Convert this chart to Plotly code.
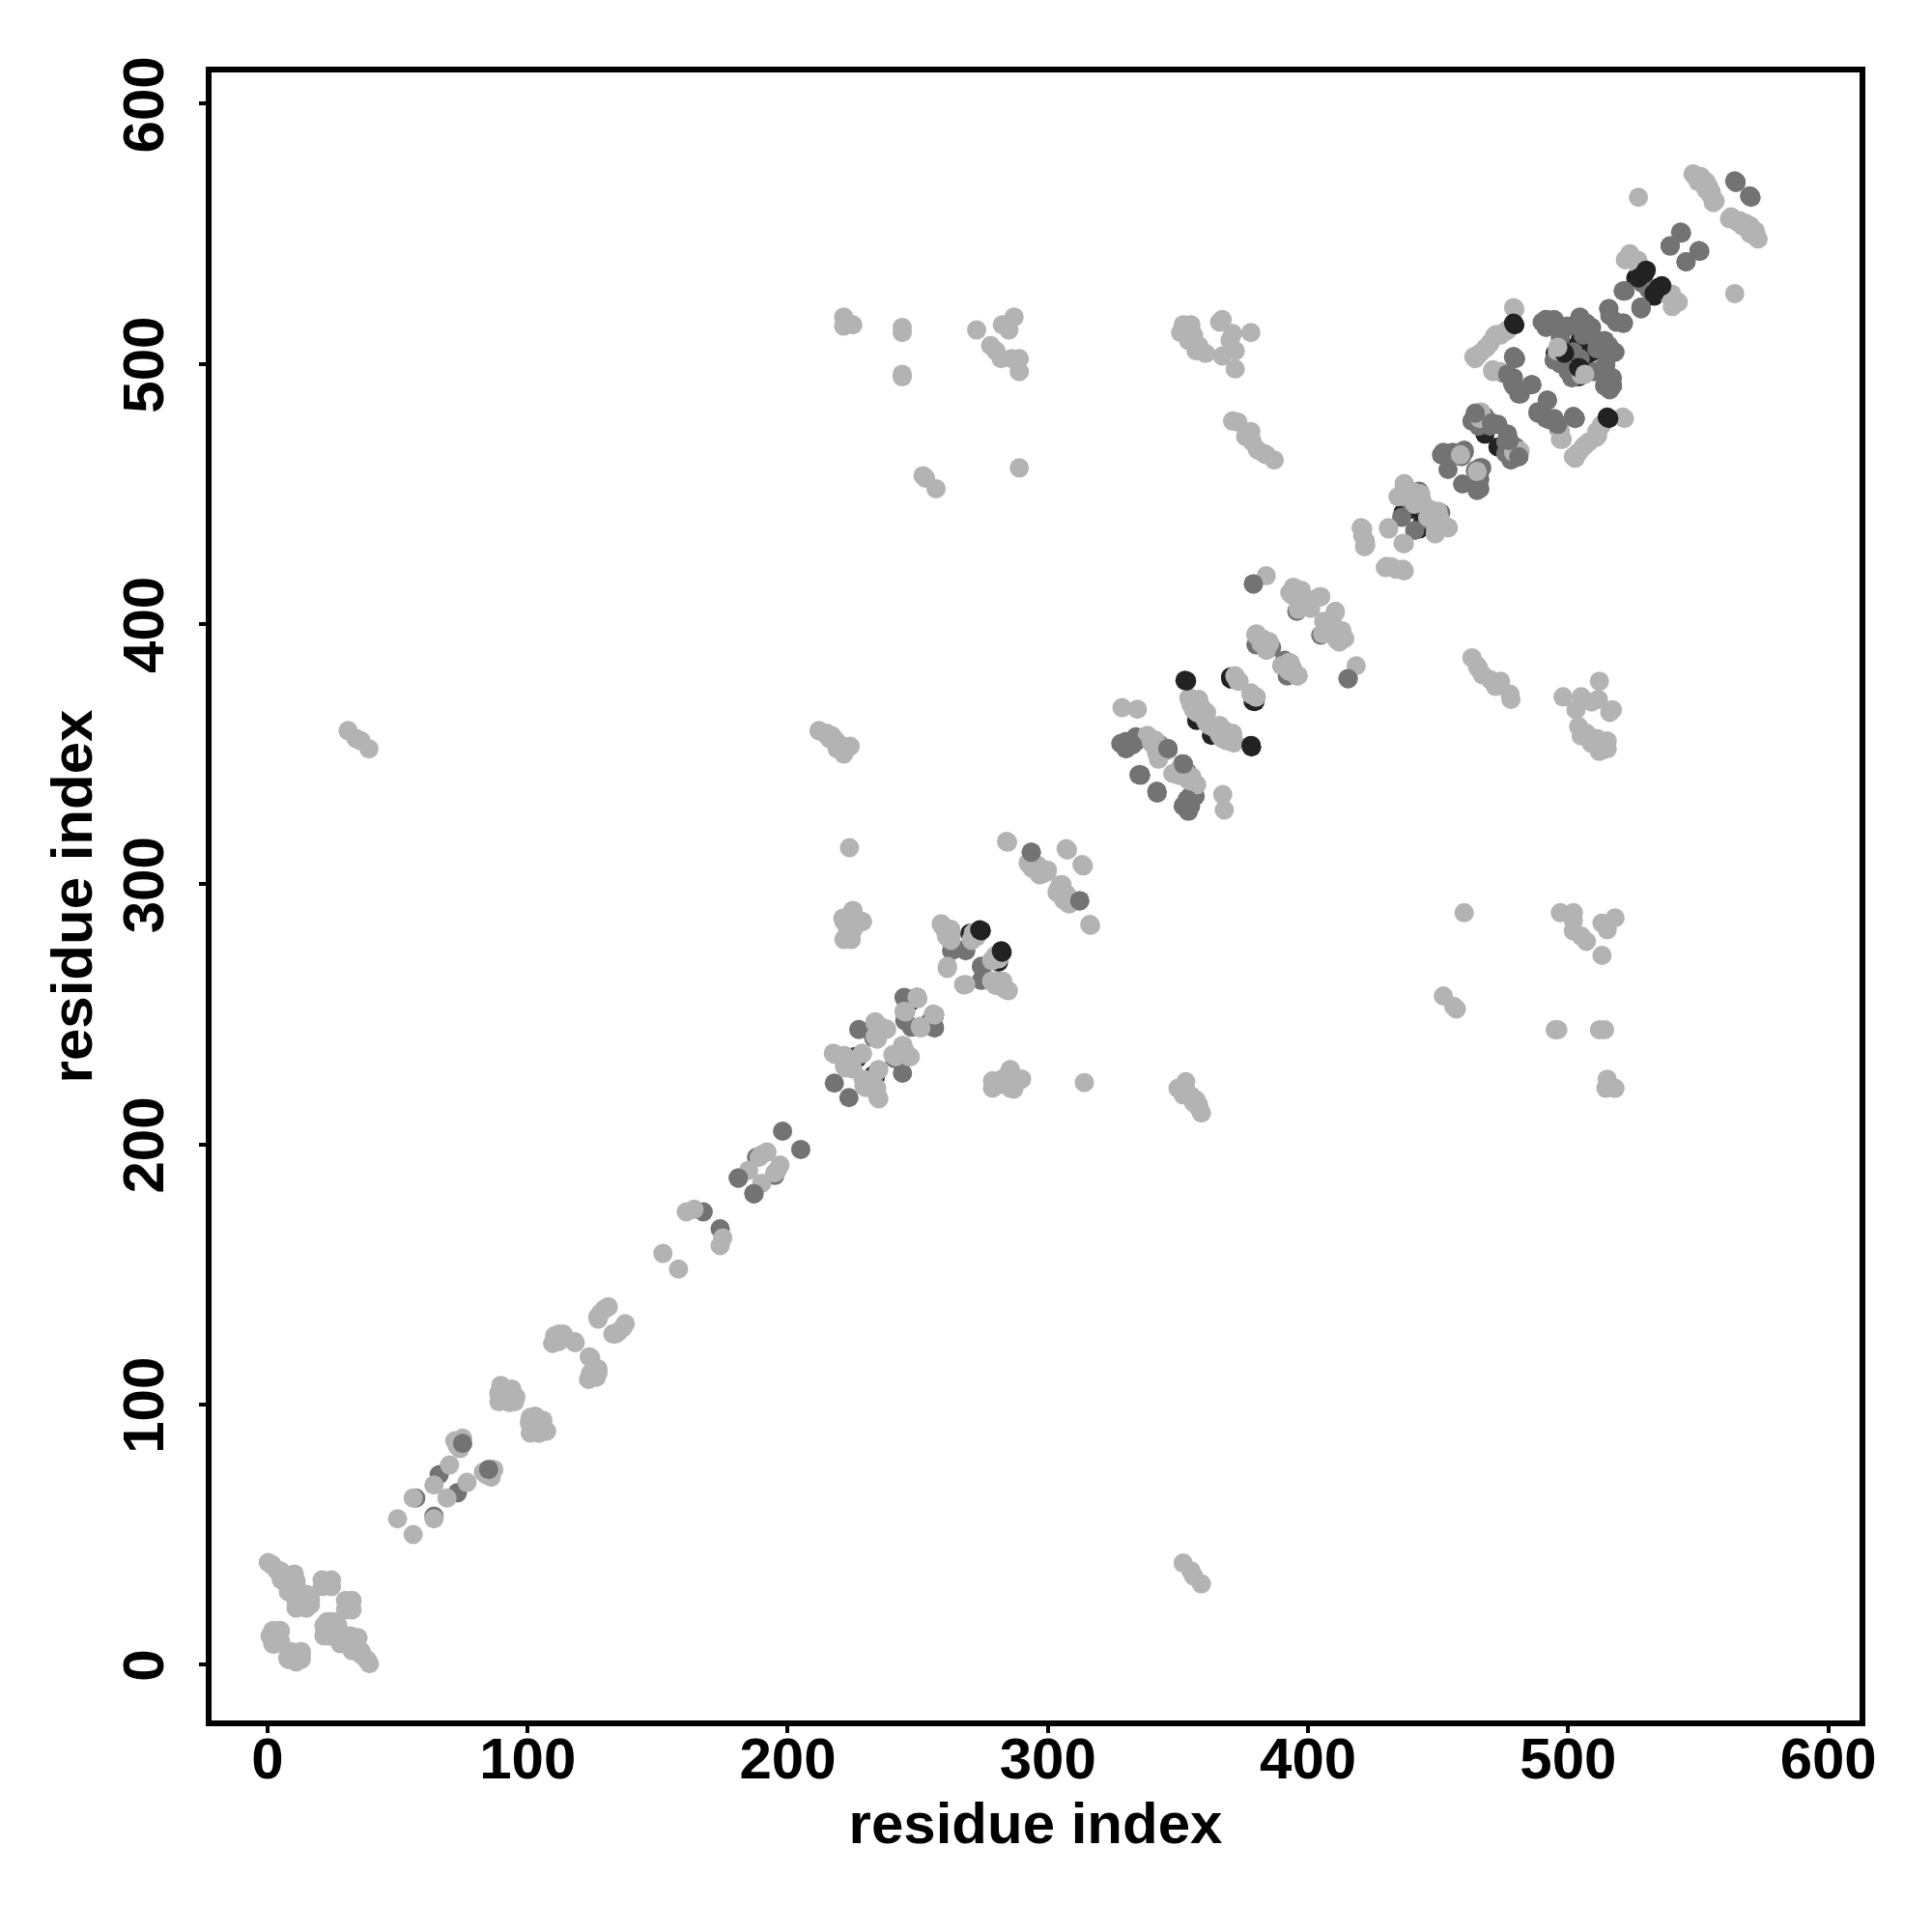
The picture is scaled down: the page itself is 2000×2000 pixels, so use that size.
import plotly.graph_objects as go

tick_values = [0, 100, 200, 300, 400, 500, 600]
axis_label = "residue index"

# contacts (i, j), i < j; every contact is drawn at (i, j) and (j, i)
dark_under = [(226.6,233),(225.6,233.6),(232.2,243.5),(234,241),(247.8,255.2),(249.7,256.4),
              (270,281),(272,280),(357.2,362.9),
              (370.2,379.6),(370.3,378.9),(436.5,442.7),(442.7,446),(439,444),
              (468,473),(502.7,515),(504.5,509),(506,512),
              (526,533),(529.3,534.8),(528,534),(495,504),(500,506)]

mid = [(57,64),(66,73),(74,86),(167.5,174),(181,187),(188,195),(198,205),(217.9,223.5),(225.6,233),
       (227.3,244.1),(233,241),(245.7,256.1),(245,247.5),(244.7,256.4),(263,274.4),(268.2,274.8),(268.4,274.4),
       (293.6,312.2),(329.4,354.2),(333.7,356.1),(332.5,353.6),(330,352),(335.6,341.9),(343,353.6),(346.1,352.1),
       (330,354.8),(333.8,354.8),(333.8,356.6),(328,354),(346.2,351.7),(379,415.4),(384,390),(380,392),(386,391),(395.7,404.9),
       (436,441),(440,446),(442.7,451),(437,453.8),(441,449),
       (452,466),(455.6,466),(460,466),(459,464.3),(453.8,459.4),(451.3,465),(456.3,465.5),(460,466.8),
       (464.3,481),(468,479.8),(470.5,477.3),(466,478),(463,478),(465,480),(470,476),(473,476.7),(465.6,476),
       (475,496.5),(478,494.6),(479,491.5),(481.6,488.4),(486,492),(481,488.4),(478.5,492.8),(474.8,496.5),(479,502.7),
       (479.8,502),(494.6,501.4),(497,500),(491.5,517),(495,516),(493.4,515),(491.5,514),(497.7,512.6),(502,504.6),
       (504.5,517.5),(507.6,514.4),(505.7,513),(507,515.6),(504.5,518),(509,514),
       (507,515),(504,514.4),(505.8,511),(493.4,516.3),(494.6,516.9),(491.5,516.3),(497,512),(499.6,514.4),(497,510),
       (490,516),(493,515),(515.6,521.2),(521.8,528),(521.2,528),(528.5,531),(529,534),
       (539.2,545.3),(543.5,550.3),(543.2,550.6),(564.5,569.8)]

light = [(0.3,39.2),(1.5,38.5),(3.6,36.3),(5.3,32.6),(7,34),(10.3,34.8),(11,30.5),(8,28),(9,31),(13.6,26.8),(12.7,22.4),(16.5,23),(11,21.7),
         (12,25),(14,23),(15,21.7),(13,24),(16.5,25),(11,24),(12,22),(14,24),(15,24),(10,27),(15,27),(2,38),(4,36),(6,33),(9,34),(11,32),(5,36),(8,30),
         (21,30),(24.6,30),(21,32.5),(24.6,32.5),(22.7,31.5),(23,31),
         (1,11),(2,8),(4,13),(5,13),(1.2,10.8),(3.4,12.7),(2.6,7.8),(2,13),(5,9),(3.5,11),
         (50,56),(56,64),(64,69),(70,76.7),(72,86),(75,85),(75,87),(73,84),(74,83),
         (89.7,107.3),(93.9,105.9),(95.5,102.9),(88.9,104.4),(93,100.7),(89.7,102.2),(91.4,105.1),(92,103),(90,105),(94,103),(89,101),(90.5,101.3),(93,104),(95,101),(91,101.5),
         (110.4,126.4),(112,124.2),(117.9,124.2),(113.7,127),(109.6,123.4),(111,125),(111,125.3),(118.3,123.7),(112,127),
         (127,133.7),(129.5,136.6),(128,135),(131,137.5),(127.1,132.8),
         (152,158),(161,174),(164,175),(185,190),(190,196),(192,197),(189,195),
         (218,234.6),(221.6,234.2),(222.3,229.3),(228.7,234.8),(228.6,235),(221.8,230),(217.5,235),(224,232),(225,229),
         (233.6,246.6),(237.9,244.1),(234.4,240.4),(238,244.3),(233.6,247.1),(233.6,241.5),(235,244),(236,245),
         (250,255.9),(245.4,250.9),(249.7,256.4),(244.7,251.1),
         (259.2,284.3),(262.7,281.2),(262.7,278.7),(261.3,267.6),(261.4,268.4),(262,279),(260,283),(261,280),
         (271.3,281.2),(270.6,278.7),(272.6,279.8),(270.7,278.4),(262.7,278.4),(262.7,282.6),(259,284.8),
         (223.7,314),(284.5,316.1),(307.5,313.1),(307,313.6),(284.1,316.4),
         (292.6,307.8),(296.1,307.2),(296.8,303.5),(299.7,304.7),(297.3,304.6),(292.4,308.2),(299.8,305.4),(294,306),(298,304),
         (225.1,289.9),(221.6,285.6),(228.7,285.6),(221.6,278.7),(224.4,278.7),(225.1,282.5),(222.5,280),(228.6,285.5),(224.9,289.7),(221.2,286.9),(223,283),(226,284),
         (212,359),(215,358),(217,357),(218.6,355),(221,353),(224,353),(221.5,350),(219,352),(214,358),(216,356),
         (221.5,518),(221.5,514.5),(225,515),(244,514),(244,512),(244,496),(244,495),(253,456),(257,452),(289,460),
         (272.6,513),(282.5,515),(287,518),(285,513),(278,507),(280,505),(282,502),(286,502),(289,502),(289,497),
         (352,515),(355,515),(351,512),(354,509),(357,505),(360.6,504),(356,511),(353,513),(358,507),
         (367,517),(371,511.6),(378,512),(367,503),(372,505),(372,498),(370,509),(366,516),
         (371,478),(373,477.6),(378,474),(378.6,470),(380.5,467),(384,465),(387,463),(376,472),(383,465.5),
         (31,359),(34,356),(36,355),(39,352),
         (328.5,367.8),(334.4,367.2),(338.7,356.1),(341.8,350.5),(355.4,341.2),(357.2,338.2),(348,342.5),(351,345),(340,354),(353,343),
         (354.8,371.5),(359.1,367.8),(357.9,369.7),(357.2,366),(355,369),(358,371),(356,367),
         (366.5,359.2),(369.6,356.7),(371.5,354.2),(360,364),(362,361),(366,361),(368,358),(370,355.5),(367,358),(365,360),
         (372,379.8),(373.5,378),(371.9,380.1),(373,378),
         (380,395.7),(385,393.2),(380,396),(383,394),(382,392.5),(384.5,392.5),(380.2,396.2),(384,390),(385.2,392.5),(385,393),
         (395,410.5),(396.2,405.6),(399.9,409.3),(404.9,410.5),(397.4,413),(393,412),(398,407),(401,406),(394,411),(404.3,410.4),(398.1,407.3),(394.4,414.1),(396,410),(395,412),(383.9,418.5),
         (421,436.5),(422.2,430.3),(430.9,437),(431,436.5),(421.7,429.7),(420.4,437),(422,432),(421,434),
         (437.7,452),(443.3,450),(434.6,448.9),(438,449),(440,451),(442.7,448),(437,453.8),(443,447),(436,449),(438,450),(441,446),(444,447),
         (458.6,465),(466,479),(465.6,481),(466.5,481.5),
         (464.3,502),(468,505.8),(471.7,510.7),(476.7,513),(479.5,521),(466,504),(470,508),(474,511),(465,503),(463.7,502.7),(468.7,506.4),(472.4,511.3),(476,512.5),(471,497),(474,497),
         (479,521.6),(471,497.7),(523.7,542.3),(526,539),(525,540),(523.7,542.2),(526.8,539.8),(522,540),(529,536),(527,538),
         (527,564),(549,572),(551.5,569.5),(554.6,565),(555.8,562),(556.5,562.6),(554,568.2),(548.4,572.6),(552,569),(553,567),(551,572),(548,573),(550,570),(555,566),(553,570),(550,571.5),
         (495.8,505),(252,457)]

mid_top = [(75,85),(181,187),(293.6,312.2),(329.4,354.2),(332.5,353.6),(335.6,341.9),(342,335),(330,354.8),
           (346.1,352.1),(379,415.4),
           (491.5,517),(495,516),(504.5,517.5),(507,515),(511,508.8),(493.4,516.3),(491.5,516.3),(494.6,516.9),(499.6,514.4),(516,518.5),
           (464.3,481),(470.5,477.3),(479,502.7),(486,492),(479,494.6),(476.7,496),
           (515.6,521.2),(521.8,528),(528,521.2),(539.2,545.3),(543.5,550.3),(564.5,569.8),(564,570.3)]
dark_top = [(274.4,282.1),(282.4,273.8),(353.3,378.1),(378.3,352.7),(479.5,515),(498.6,504),(498.3,504.5),
            (515.6,479),(530,536),(534.8,529.3),(527,533)]
light_top = [(496,506.4)]


def xs(pairs):
    return [p[0] for p in pairs] + [p[1] for p in pairs]


def ys(pairs):
    return [p[1] for p in pairs] + [p[0] for p in pairs]


fig = go.Figure()
for pairs, colour in [(dark_under, "#222222"), (mid, "#737373"), (light, "#b3b3b3"),
                      (mid_top, "#737373"), (dark_top, "#222222"), (light_top, "#b3b3b3")]:
    fig.add_trace(go.Scatter(x=xs(pairs), y=ys(pairs), mode="markers", showlegend=False,
                             marker=dict(size=20, color=colour, line=dict(width=0))))

tick_font = dict(family="Liberation Sans", size=60, color="black", weight="bold")
title_font = dict(family="Liberation Sans", size=60, color="black", weight="bold")
axis = dict(tickvals=tick_values, ticks="outside", ticklen=7, tickwidth=4, tickcolor="black",
            showline=True, linecolor="black", linewidth=6, mirror=True, showgrid=False, zeroline=False,
            tickfont=tick_font, title=dict(text=axis_label, font=title_font), range=[-21.5, 612])
fig.update_layout(width=2000, height=2000, autosize=False, plot_bgcolor="white", paper_bgcolor="white",
                  margin=dict(l=219, r=75, t=75, b=219))
fig.update_xaxes(ticklabelstandoff=-25, title_standoff=14, **axis)
fig.update_yaxes(ticklabelstandoff=13, ticklabelshift=10, tickangle=-90, title_standoff=2, **axis)
fig.write_html("out.html", config={"displayModeBar": False},
               post_script="document.body.style.margin='0';")
